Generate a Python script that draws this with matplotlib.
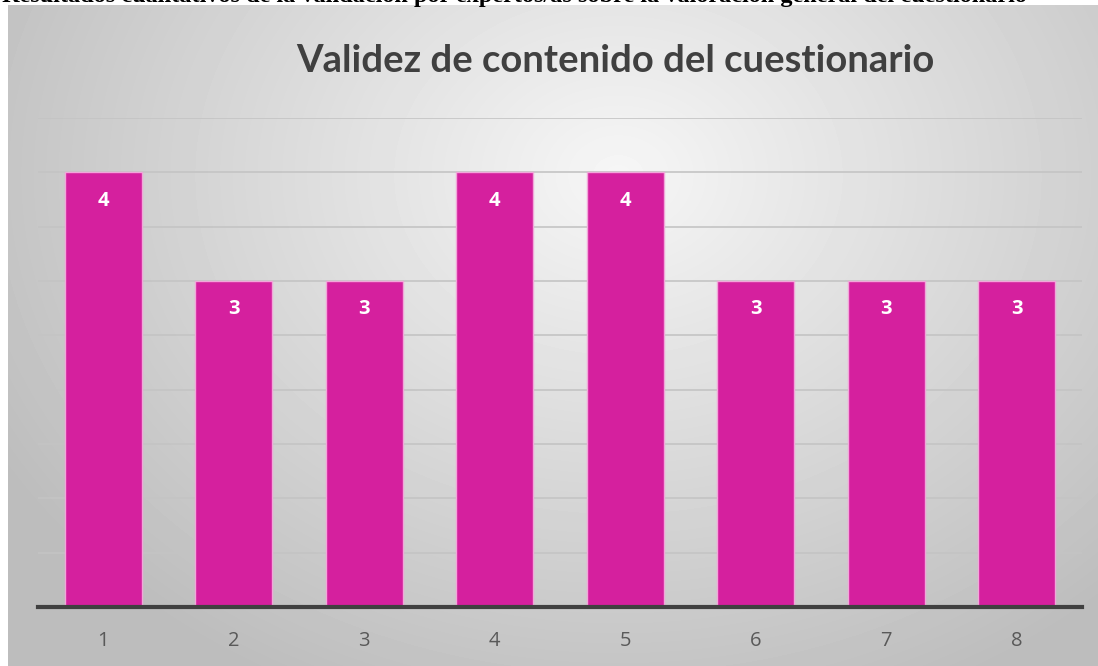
import numpy as np
import matplotlib.pyplot as plt

# data
items = ['1', '2', '3', '4', '5', '6', '7', '8']
scores = [4, 3, 3, 4, 4, 3, 3, 3]

title = 'Validez de contenido del cuestionario'
caption = ('Resultados cualitativos de la validación por expertos/as sobre la '
           'valoración general del cuestionario')

W, H = 1098, 666
fig = plt.figure(figsize=(W / 100, H / 100), dpi=100)
fig.patch.set_facecolor('white')

# panel background with radial gradient
bg = fig.add_axes([8 / W, 0, 1 - 8 / W, 1 - 5 / H], zorder=0)
yy, xx = np.mgrid[0:661, 0:1090]
r = np.sqrt(((xx - 610) / 700.0) ** 2 + ((yy - 170) / 560.0) ** 2)
shade = np.clip(0.965 - 0.22 * r, 0.74, 0.97)
bg.imshow(shade, cmap='gray', vmin=0, vmax=1, aspect='auto',
          extent=[0, 1, 0, 1], interpolation='bilinear')
bg.set_axis_off()

# caption, cut off at the top as in the source
fig.text(2 / W, 1 - 2 / H, caption, ha='left', va='baseline',
         family='Liberation Serif', fontweight='bold', fontsize=17.5,
         color='black')

ax = fig.add_axes([38 / W, (H - 607) / H, (1082 - 38) / W, (607 - 118) / H],
                  zorder=1)
ax.patch.set_alpha(0)
x = np.arange(1, len(items) + 1)
bars = ax.bar(x, scores, width=0.59, color='#D5209E', edgecolor='#F2A6DA',
              linewidth=1, zorder=3)
ax.set_xlim(0.5, len(items) + 0.5)
ax.set_ylim(0, 4.5)
ax.set_yticks(np.arange(0.5, 4.51, 0.5))
ax.yaxis.grid(True, color='#C4C4C4', linewidth=1.2, zorder=0)
ax.tick_params(axis='y', left=False, labelleft=False)
ax.tick_params(axis='x', bottom=False, pad=14, labelsize=14.5,
               labelcolor='#595959')
ax.set_xticks(x)
ax.set_xticklabels(items, family='Open Sans')
for s in ['top', 'right', 'left']:
    ax.spines[s].set_visible(False)
ax.spines['bottom'].set_color('#404040')
ax.spines['bottom'].set_linewidth(3)
ax.spines['bottom'].set_zorder(4)

for b, v in zip(bars, scores):
    ax.text(b.get_x() + b.get_width() / 2, v - 0.26, str(v), ha='center',
            va='center', color='white', fontweight='bold', fontsize=14.5,
            family='Open Sans', zorder=5)

fig.text(615 / W, 1 - 72 / H, title, ha='center', va='baseline',
         family='Lato', fontweight='bold', fontsize=27.5, color='#404040')

fig.savefig('out.png', dpi=100)
